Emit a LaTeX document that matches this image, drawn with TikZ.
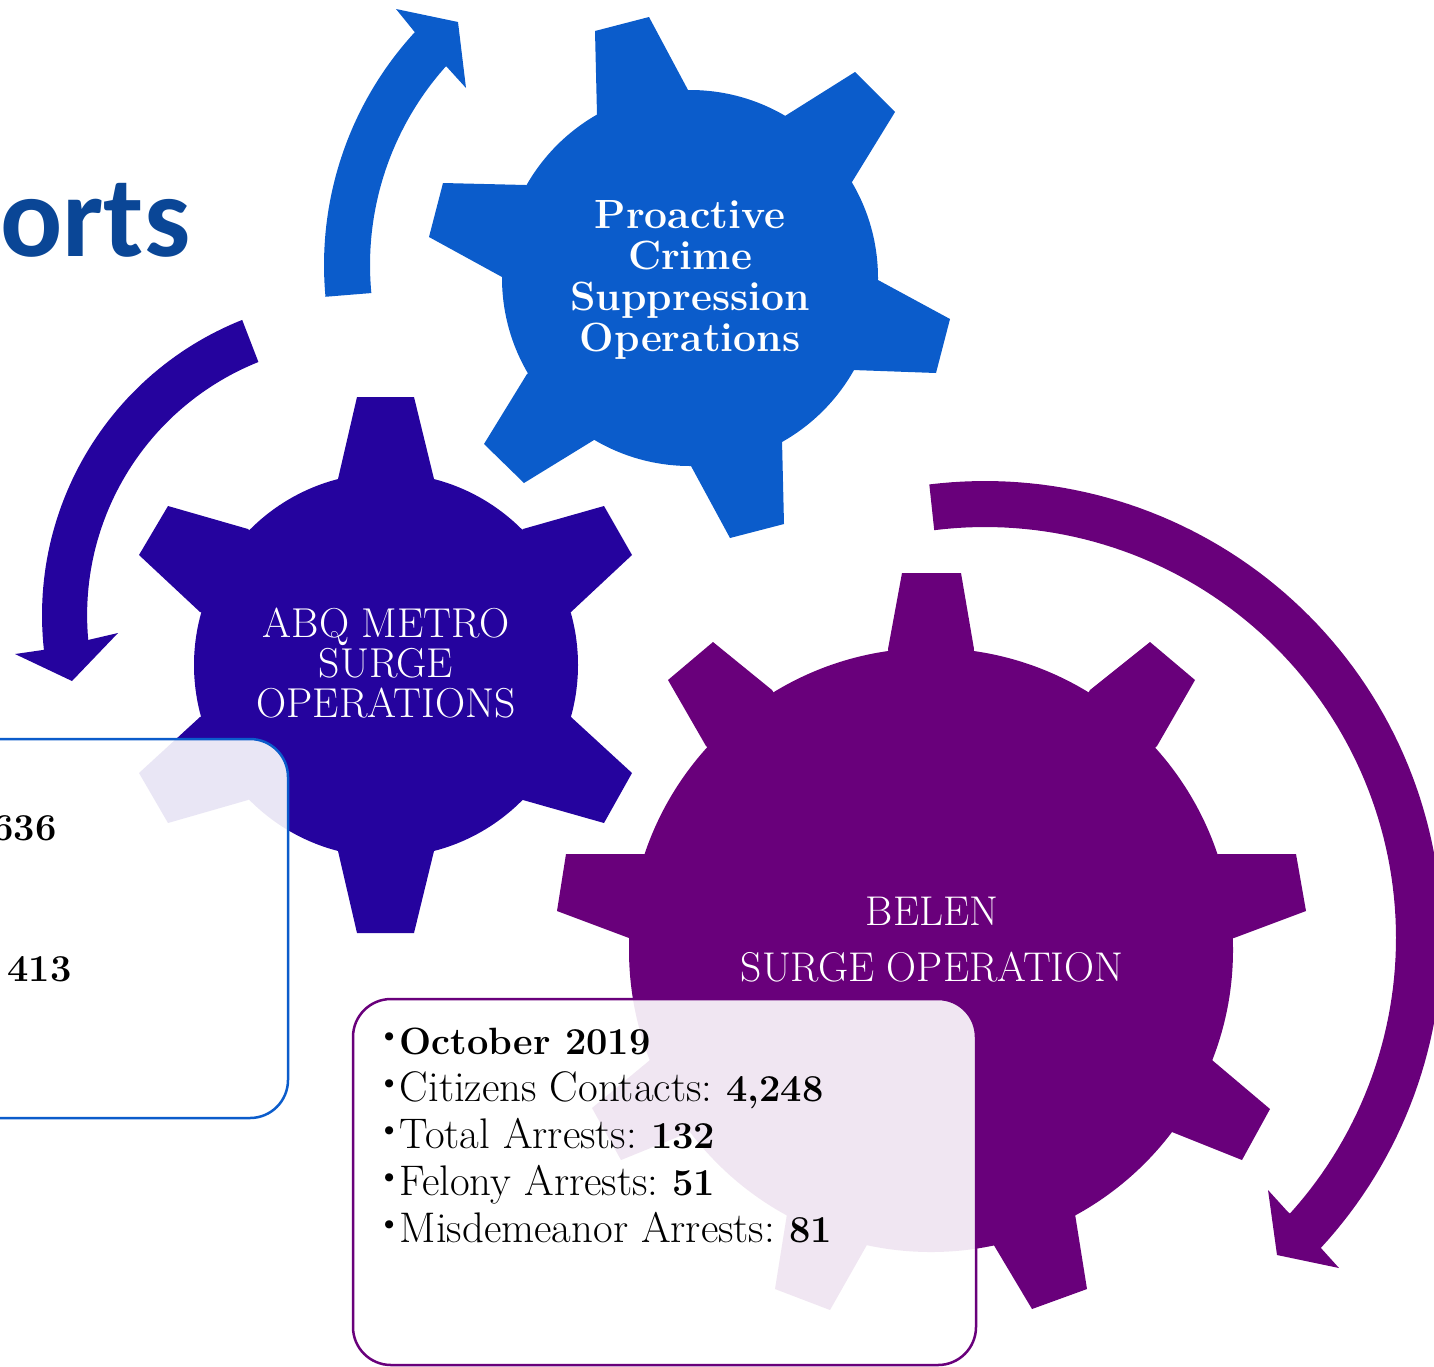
\documentclass[tikz,border=0pt]{standalone}
\usepackage{fontspec}
\newfontfamily\titlefont{Carlito}
\definecolor{cblue}{HTML}{0B5CCB}
\definecolor{cindigo}{HTML}{25039E}
\definecolor{cpurple}{HTML}{69007B}
\definecolor{ctitle}{HTML}{0A4696}
\newcommand{\bul}{\makebox[9.2pt][l]{\hspace{-2.4pt}\raisebox{4pt}{\scalebox{.85}{\textbullet}}}}
\newcommand{\statval}[1]{\hspace{-1.6pt}{\fontsize{19}{23.5}\selectfont\bfseries #1}}
\tikzset{
  x=0.5pt,y=-0.5pt,
  gearlabel/.style={text=white,align=center,inner sep=0pt},
  infobox/.style={fill=white,fill opacity=.9,rounded corners=19pt,line width=1.25pt},
  infotext/.style={text=black,align=left,inner sep=0pt,anchor=north west,font=\fontsize{21.4}{23.5}\selectfont},
  statnum/.style={text=black,inner sep=0pt,anchor=base east,font=\fontsize{19}{23.5}\selectfont\bfseries}
}
\begin{document}
\begin{tikzpicture}
\useasboundingbox (0,0) rectangle (1434,1366);
\clip (0,0) rectangle (1434,1366);

\node[inner sep=0pt,anchor=base east,text=ctitle,font=\titlefont\fontsize{58}{60}\selectfont\bfseries] (title) at (191,256) {f\kern1.6pt orts};

% Arrows
\fill[cblue] plot[domain=174.7:222.6,samples=50] ({668+344*cos(\x)},{265+344*sin(\x)})
  -- (396,9) -- (458,22) -- (466,88) -- (446,66)
  -- plot[domain=221.9:174.6,samples=50] ({668+298*cos(\x)},{265+298*sin(\x)}) -- cycle;
\fill[cindigo] plot[domain=248.3:173.7,samples=60] ({359.6+317.6*cos(\x)},{615+317.6*sin(\x)})
  -- (15,654) -- (72,681) -- (118,633) -- (88,640)
  -- plot[domain=174.7:248.2,samples=60] ({359.6+272.5*cos(\x)},{615+272.5*sin(\x)}) -- cycle;
\fill[cpurple] plot[domain=-97:42.7,samples=100] ({985+457*cos(\x)},{938+457*sin(\x)})
  -- (1339,1268) -- (1277,1255) -- (1268,1190) -- (1288,1212)
  -- plot[domain=42.1:-97.1,samples=100] ({985+411*cos(\x)},{938+411*sin(\x)}) -- cycle;

% Blue gear
\coordinate (bc) at (690,278);
\fill[cblue] (bc) circle[radius=188];
\fill[cblue] (595,31)--(649,17)--(688,90)--(bc)--(597,115)--cycle;
\fill[cblue] (855,72)--(895,112)--(852,182)--(bc)--(785,116)--cycle;
\fill[cblue] (950,319)--(936,373)--(853,370)--(bc)--(878,280)--cycle;
\fill[cblue] (784,524)--(730,538)--(691,466)--(bc)--(782,440)--cycle;
\fill[cblue] (524,483)--(484,444)--(527,374)--(bc)--(594,440)--cycle;
\fill[cblue] (429,237)--(443,183)--(526,185)--(bc)--(502,277)--cycle;

% Indigo gear
\coordinate (ic) at (386,665);
\fill[cindigo] (ic) circle[radius=192];
\fill[cindigo] (357,397)--(414,397)--(434,479)--(ic)--(338,479)--cycle;
\fill[cindigo] (604,506)--(632,555)--(571,612)--(ic)--(523,529)--cycle;
\fill[cindigo] (632,773)--(604,823)--(523,800)--(ic)--(571,717)--cycle;
\fill[cindigo] (414,933)--(357,933)--(338,851)--(ic)--(434,851)--cycle;
\fill[cindigo] (168,823)--(139,773)--(200,717)--(ic)--(248,800)--cycle;
\fill[cindigo] (139,555)--(168,506)--(248,529)--(ic)--(200,612)--cycle;

% Purple gear
\coordinate (pc) at (931,950);
\fill[cpurple] (pc) circle[radius=302];
\fill[cpurple] (902,573)--(961,573)--(974,649)--(pc)--(888,649)--cycle;
\fill[cpurple] (1150,642)--(1195,680)--(1157,746)--(pc)--(1090,690)--cycle;
\fill[cpurple] (1296,854)--(1306,911)--(1234,938)--(pc)--(1218,854)--cycle;
\fill[cpurple] (1270,1109)--(1242,1160)--(1172,1132)--(pc)--(1212,1060)--cycle;
\fill[cpurple] (1087,1289)--(1032,1309)--(992,1242)--(pc)--(1075,1214)--cycle;
\fill[cpurple] (775,1289)--(830,1310)--(868,1243)--(pc)--(787,1214)--cycle;
\fill[cpurple] (592,1108)--(621,1160)--(690,1132)--(pc)--(650,1060)--cycle;
\fill[cpurple] (566,854)--(557,911)--(629,938)--(pc)--(645,854)--cycle;
\fill[cpurple] (713,642)--(668,680)--(706,746)--(pc)--(772,690)--cycle;

% Gear labels
\node[gearlabel,font=\fontsize{20.4}{20.5}\selectfont\bfseries] (proactive) at (690,280) {Proactive\\Crime\\Suppression\\Operations};
\node[gearlabel,font=\fontsize{20.9}{20.2}\selectfont] (abq) at (386,663) {ABQ METRO\\SURGE\\OPERATIONS};
\node[gearlabel,font=\fontsize{20.8}{28}\selectfont] (belen) at (932,940) {BELEN\\SURGE OPERATION};

% Info boxes
\draw[infobox,draw=cblue] (-100,739) rectangle (288,1118);
\draw[infobox,draw=cpurple] (353,999) rectangle (976,1365);

\node[statnum] (n636) at (57,840) {636};
\node[statnum] (n413) at (72,981) {413};
\node[infotext] (belenstats) at (381,1028) {\bul\statval{\hspace{1.6pt}October 2019}\\
\bul Citizens Contacts: \statval{4,248}\\
\bul Total Arrests: \statval{132}\\
\bul Felony Arrests: \statval{51}\\
\bul Misdemeanor Arrests: \statval{81}};
\end{tikzpicture}
\end{document}
